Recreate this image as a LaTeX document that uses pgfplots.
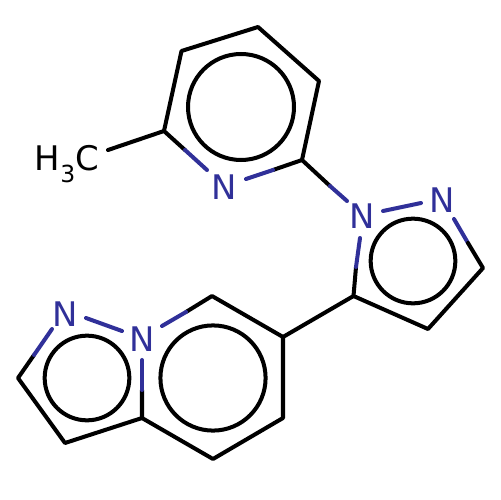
\documentclass[border=0pt]{standalone}
\usepackage{fontspec}
\setmainfont{DejaVu Sans}
\usepackage{pgfplots}
\pgfplotsset{compat=1.18}
\definecolor{nblue}{HTML}{303099}
\tikzset{
    bond/.style={black, line width=2.9pt, line cap=round, line join=round, mark=none},
    nbond/.style={nblue, line width=2.9pt, line cap=round, line join=round, mark=none},
    atom/.style={nblue, inner sep=0pt, font=\fontsize{24.5}{25}\selectfont},
}
\pgfplotsset{ring/.style={only marks, mark=o, mark options={black, line width=2.9pt}}}

\begin{document}
\begin{tikzpicture}
\begin{axis}[
    width=361.35pt,
    height=361.35pt,
    scale only axis,
    xmin=0, xmax=500,
    ymin=0, ymax=500,
    y dir=reverse,
    hide axis,
    clip=false,
]
% invisible corners, keeps the page at full size
\addplot[draw=none, mark=none] coordinates {(0,0) (500,500)};

% methyl + pyridine
\addplot[bond] coordinates {(108,150) (164,131)};
\addplot[bond] coordinates {(185,150) (164,131) (181.5,51) (258,27) (319,81) (302,160) (273,170)};
\addplot[nbond] coordinates {(185,150) (207,170)};
\addplot[nbond] coordinates {(273,170) (246,179)};
% link to pyrazole
\addplot[bond] coordinates {(302,160) (330,186)};
\addplot[nbond] coordinates {(330,186) (347,201)};
% pyrazole
\addplot[nbond] coordinates {(383,211) (421,203)};
\addplot[nbond] coordinates {(454,219) (468,243)};
\addplot[bond] coordinates {(468,243) (483,268) (428,329) (353.5,296) (356,267)};
\addplot[nbond] coordinates {(356,267) (360,238)};
% link to bicycle
\addplot[bond] coordinates {(353.5,296) (283,337)};
% six ring
\addplot[bond] coordinates {(186,312) (212,296) (283,337) (283,418) (213,459) (142,418) (142,390)};
\addplot[nbond] coordinates {(186,312) (162,326)};
\addplot[nbond] coordinates {(142,390) (142,360)};
% five ring
\addplot[bond] coordinates {(142,418) (65,443) (18,378) (34,355)};
\addplot[nbond] coordinates {(34,355) (52,329)};
\addplot[nbond] coordinates {(86,318) (122,331)};

% aromatic circles
\addplot[ring, mark size=38.3pt] coordinates {(241,107)};
\addplot[ring, mark size=30.6pt] coordinates {(413,261)};
\addplot[ring, mark size=38pt] coordinates {(213,378)};
\addplot[ring, mark size=30.6pt] coordinates {(87,378)};

% atom labels
\node[atom] at (axis cs:224,187) {N};
\node[atom] at (axis cs:362,216) {N};
\node[atom] at (axis cs:442,200) {N};
\node[atom] at (axis cs:65,314) {N};
\node[atom] at (axis cs:142,339) {N};
\node[black, inner sep=0pt, anchor=base west, font=\fontsize{24.5}{25}\selectfont] at (axis cs:34.5,170.5)
    {H{\fontsize{17}{18}\selectfont\raisebox{-8.7pt}{3}}C};
\end{axis}
\end{tikzpicture}
\end{document}
